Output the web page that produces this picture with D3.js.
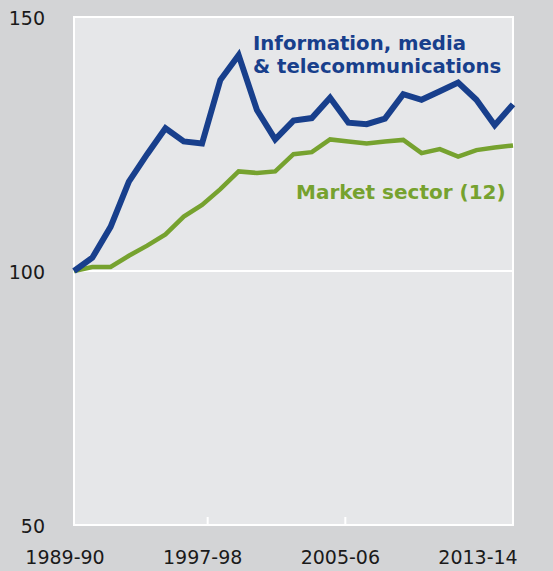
<!DOCTYPE html>
<html>
<head>
<meta charset="utf-8">
<script src="https://cdn.jsdelivr.net/npm/d3@7"></script>
<style>
  body { margin: 0; background: #d3d4d6; }
  text { font-family: "DejaVu Sans", Verdana, sans-serif; }
</style>
</head>
<body>
<div id="chart"></div>
<script>
// financial years, 1989-90 to 2013-14
var years = ["1989-90","1990-91","1991-92","1992-93","1993-94","1994-95","1995-96","1996-97",
  "1997-98","1998-99","1999-00","2000-01","2001-02","2002-03","2003-04","2004-05","2005-06",
  "2006-07","2007-08","2008-09","2009-10","2010-11","2011-12","2012-13","2013-14"];

var infoMedia = [100, 102.6, 108.7, 117.6, 123, 128.1, 125.5, 125.1, 137.6, 142.5, 131.7, 125.9,
  129.6, 130.1, 134.1, 129.2, 128.9, 130, 134.8, 133.7, 135.4, 137.1, 133.7, 128.7, 132.8];

var marketSector = [100, 100.8, 100.8, 103, 105, 107.2, 110.7, 113, 116.1, 119.6, 119.3, 119.6,
  123, 123.4, 125.9, 125.5, 125.1, 125.5, 125.8, 123.2, 124, 122.5, 123.8, 124.3, 124.7];

var yTicks = [50, 100, 150];
var xTickLabels = ["1989-90", "1997-98", "2005-06", "2013-14"];

var width = 553, height = 571;
var margin = { top: 17, left: 74, right: 40, bottom: 46 };

var svg = d3.select("#chart").append("svg")
    .attr("width", width)
    .attr("height", height);

var x = d3.scalePoint()
    .domain(years)
    .range([margin.left, width - margin.right]);

var y = d3.scaleLinear()
    .domain([50, 150])
    .range([height - margin.bottom, margin.top]);

// tick label positions don't line up with the data points in the original
var xLab = d3.scalePoint()
    .domain(xTickLabels)
    .range([70, 483]);

// plot background
svg.append("rect")
    .attr("x", margin.left)
    .attr("y", margin.top)
    .attr("width", width - margin.left - margin.right)
    .attr("height", height - margin.top - margin.bottom)
    .attr("fill", "#e6e7e9")
    .attr("stroke", "#ffffff")
    .attr("stroke-width", 2);

// white gridline at 100
svg.selectAll(".grid")
    .data(yTicks.filter(function (d) { return d > 50 && d < 150; }))
    .enter().append("line")
    .attr("x1", margin.left)
    .attr("x2", width - margin.right)
    .attr("y1", function (d) { return y(d); })
    .attr("y2", function (d) { return y(d); })
    .attr("stroke", "#ffffff")
    .attr("stroke-width", 2);

// small tick marks on the bottom edge
svg.selectAll(".xtick")
    .data(xTickLabels.slice(1, -1))
    .enter().append("line")
    .attr("x1", function (d) { return xLab(d); })
    .attr("x2", function (d) { return xLab(d); })
    .attr("y1", y(50))
    .attr("y2", y(50) - 8)
    .attr("stroke", "#ffffff")
    .attr("stroke-width", 2);

// y labels
svg.selectAll(".ylab")
    .data(yTicks)
    .enter().append("text")
    .attr("x", 45)
    .attr("y", function (d) { return y(d) + 8; })
    .attr("text-anchor", "end")
    .attr("font-size", "19px")
    .attr("fill", "#1a1a1a")
    .text(function (d) { return d; });

// x labels
svg.selectAll(".xlab")
    .data(xTickLabels)
    .enter().append("text")
    .attr("x", function (d) { return xLab(d) - 5; })
    .attr("y", 564)
    .attr("text-anchor", "middle")
    .attr("font-size", "19px")
    .attr("fill", "#1a1a1a")
    .text(function (d) { return d; });

var line = d3.line()
    .x(function (d, i) { return x(years[i]); })
    .y(function (d) { return y(d); });

svg.append("path")
    .datum(marketSector)
    .attr("d", line)
    .attr("fill", "none")
    .attr("stroke", "#76a22f")
    .attr("stroke-width", 4.5)
    .attr("stroke-linejoin", "miter");

svg.append("path")
    .datum(infoMedia)
    .attr("d", line)
    .attr("fill", "none")
    .attr("stroke", "#183f8c")
    .attr("stroke-width", 6)
    .attr("stroke-linejoin", "miter");

// series labels
var infoLabel = svg.append("text")
    .attr("x", 253)
    .attr("y", 50)
    .attr("font-size", "19.7px")
    .attr("font-weight", "bold")
    .attr("fill", "#183f8c");
infoLabel.append("tspan").attr("x", 253).text("Information, media");
infoLabel.append("tspan").attr("x", 253).attr("dy", 23).text("& telecommunications");

svg.append("text")
    .attr("x", 296)
    .attr("y", 199)
    .attr("font-size", "20px")
    .attr("font-weight", "bold")
    .attr("fill", "#76a22f")
    .text("Market sector (12)");
</script>
</body>
</html>
